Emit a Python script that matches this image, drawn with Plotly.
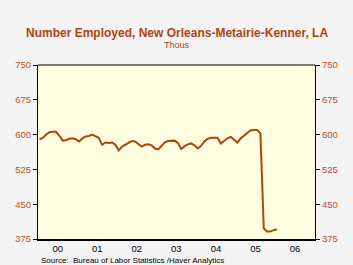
import pandas as pd
import plotly.graph_objects as go

# Monthly data, Jan 2000 .. Jan 2006 (thousands)
start_month = "2000-01-01"
values = [
    590, 593, 600, 605, 606, 606, 598, 587, 588, 591, 592, 590,   # 2000
    585, 592, 596, 597, 600, 597, 593, 578, 583, 582, 583, 578,   # 2001
    566, 574, 578, 583, 586, 585, 580, 574, 578, 579, 577, 570,   # 2002
    568, 577, 583, 586, 587, 587, 582, 569, 575, 579, 581, 577,   # 2003
    570, 576, 585, 591, 593, 593, 593, 581, 587, 592, 595, 590,   # 2004
    583, 592, 598, 604, 609, 610, 610, 603, 398, 391, 391, 394,   # 2005
    396,                                                          # 2006
]
year_labels = ["00", "01", "02", "03", "04", "05", "06"]
y_ticks = [375, 450, 525, 600, 675, 750]

dates = pd.date_range(start_month, periods=len(values), freq="MS") + pd.Timedelta(days=14)
year_mid = [pd.Timestamp(f"20{y}-07-01") for y in year_labels]

line_col = "#b4420c"
title_col = "#b4420c"
tick_col = "#c0501c"

fig = go.Figure()
fig.add_trace(go.Scatter(x=dates, y=values, mode="lines",
                         line=dict(color=line_col, width=2), showlegend=False,
                         hoverinfo="skip"))
fig.add_trace(go.Scatter(x=dates, y=values, mode="lines", yaxis="y2",
                         line=dict(color="rgba(0,0,0,0)", width=0), showlegend=False,
                         hoverinfo="skip"))

font_family = "Liberation Sans, Arial, sans-serif"

fig.update_layout(
    width=353, height=265,
    margin=dict(l=38, r=38, t=65, b=26),
    paper_bgcolor="#f4f4f4",
    plot_bgcolor="#ffffe0",
    font=dict(family=font_family),
    xaxis=dict(
        type="date",
        range=["2000-01-01", "2007-01-01"],
        tickvals=year_mid, ticktext=year_labels,
        ticks="", showgrid=False, zeroline=False,
        showline=True, linecolor="black", linewidth=2, mirror=False,
        tickfont=dict(size=9.5, color="black", family=font_family),
    ),
    yaxis=dict(
        range=[375, 750], tickvals=y_ticks,
        ticks="outside", ticklen=4, tickcolor="black",
        showgrid=False, zeroline=False,
        showline=True, linecolor="black", linewidth=1, mirror=False,
        tickfont=dict(size=9.5, color=tick_col, family=font_family),
    ),
    yaxis2=dict(
        range=[375, 750], tickvals=y_ticks, overlaying="y", side="right",
        ticks="outside", ticklen=4, tickcolor="black",
        showgrid=False, zeroline=False,
        showline=True, linecolor="black", linewidth=1,
        tickfont=dict(size=9.5, color=tick_col, family=font_family),
    ),
    shapes=[dict(type="line", xref="paper", yref="paper", x0=0, x1=1, y0=1, y1=1,
                 line=dict(color="black", width=1))],
    annotations=[
        dict(text="<b>Number Employed, New Orleans-Metairie-Kenner, LA</b>",
             xref="paper", yref="paper", x=0.5, y=1, yshift=32, xanchor="center", yanchor="middle",
             showarrow=False, font=dict(size=12, color=title_col, family=font_family)),
        dict(text="Thous", xref="paper", yref="paper", x=0.5, y=1, yshift=20,
             xanchor="center", yanchor="middle", showarrow=False,
             font=dict(size=9, color=title_col, family=font_family)),
        dict(text="Source:  Bureau of Labor Statistics /Haver Analytics",
             xref="paper", yref="paper", x=0, xshift=1, y=0, yshift=-21,
             xanchor="left", yanchor="middle", showarrow=False,
             font=dict(size=8, color="black", family=font_family)),
    ],
)

fig.write_html("out.html")
